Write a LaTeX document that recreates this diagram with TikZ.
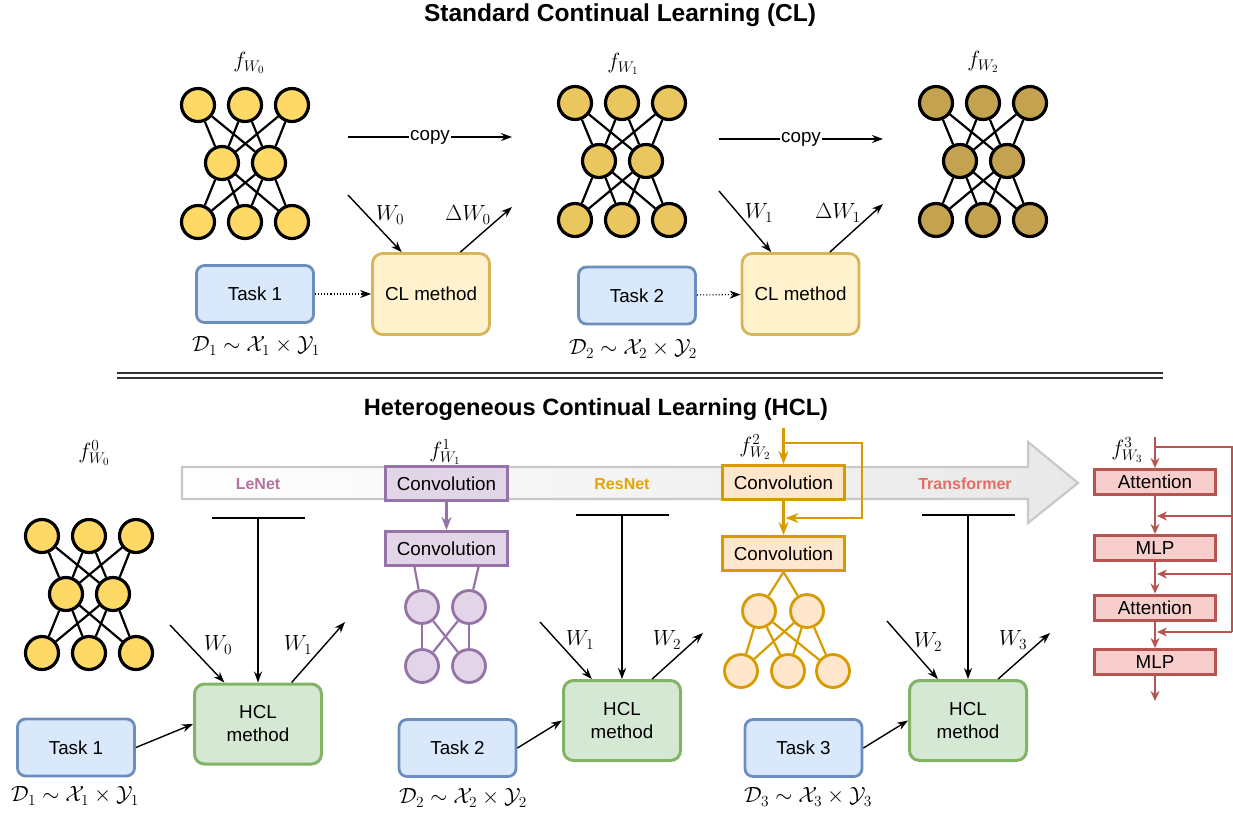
\RequirePackage{fix-cm}
\documentclass[tikz,border=0pt]{standalone}
\usepackage[no-math]{fontspec}
\setmainfont{Liberation Sans}
\usetikzlibrary{arrows.meta,positioning}

\definecolor{taskfill}{RGB}{218,232,252}
\definecolor{taskline}{RGB}{108,142,191}
\definecolor{clfill}{RGB}{255,242,204}
\definecolor{clline}{RGB}{214,182,86}
\definecolor{hclfill}{RGB}{213,232,212}
\definecolor{hclline}{RGB}{130,179,102}
\definecolor{lenetfill}{RGB}{225,213,231}
\definecolor{lenetline}{RGB}{150,115,166}
\definecolor{lenettext}{RGB}{181,115,157}
\definecolor{resfill}{RGB}{255,230,204}
\definecolor{resline}{RGB}{215,155,0}
\definecolor{restext}{RGB}{227,166,0}
\definecolor{trfill}{RGB}{248,206,204}
\definecolor{trline}{RGB}{184,84,80}
\definecolor{trtext}{RGB}{234,107,102}
\definecolor{netA}{RGB}{255,217,102}
\definecolor{netB}{RGB}{233,198,94}
\definecolor{netC}{RGB}{196,163,80}
\definecolor{bannerline}{RGB}{200,200,200}

\newcommand{\boxfont}{\fontsize{18.8}{23}\selectfont}
\newcommand{\mathfont}{\fontsize{22}{26}\selectfont}

% fully connected 3-2-3 net: name, x of first neuron, y of top row, fill
\newcommand{\denseNet}[4]{%
  \foreach \i in {0,1,2} {
    \node[neuron, fill=#4] (#1t\i) at ({#2+47*\i},#3) {};
    \node[neuron, fill=#4] (#1b\i) at ({#2+47*\i},#3+117) {};
  }
  \foreach \j in {0,1}
    \node[neuron, fill=#4] (#1m\j) at ({#2+24+47*\j},#3+58) {};
  \foreach \i in {0,1,2}
    \foreach \j in {0,1} {
      \draw[link] (#1t\i) -- (#1m\j);
      \draw[link] (#1m\j) -- (#1b\i);
    }
}

\begin{document}
\begin{tikzpicture}[x=1pt, y=-1pt, >={Stealth[length=11pt,width=8pt]},
    neuron/.style={circle, draw, line width=3.2pt, minimum size=33pt, inner sep=0pt},
    link/.style={line width=2.2pt},
    lbl/.style={font=\mathfont},
    arr/.style={->, line width=1.4pt},
    task/.style={draw=taskline, fill=taskfill, line width=2.8pt, rounded corners=8pt,
      minimum width=117pt, minimum height=57pt, font=\boxfont},
    cl/.style={draw=clline, fill=clfill, line width=2.8pt, rounded corners=10pt,
      minimum width=117pt, minimum height=81pt, font=\boxfont},
    hcl/.style={draw=hclline, fill=hclfill, line width=3pt, rounded corners=10pt,
      minimum width=117pt, minimum height=80pt, align=center, font=\boxfont},
    layer/.style={line width=3pt, minimum width=122pt, minimum height=34pt,
      inner sep=0pt, font=\boxfont},
    block/.style={draw=trline, fill=trfill, line width=3pt, minimum width=121pt,
      minimum height=25pt, inner sep=0pt, font=\boxfont},
    tag/.style={font=\fontsize{16}{18}\selectfont\bfseries},
    pflow/.style={line width=2.4pt, >={Stealth[length=13pt,width=10pt]}},
    rflow/.style={trline, line width=1.7pt, >={Stealth[length=10pt,width=9pt]}}]
\useasboundingbox (0,0) rectangle (1233,812);

% ---- standard CL ----
\node[font=\fontsize{24.5}{28}\selectfont\bfseries] (title1) at (620,15) {Standard Continual Learning (CL)};

\denseNet{a}{198}{105}{netA}
\denseNet{b}{575}{103}{netB}
\denseNet{c}{936}{103}{netC}
\node[lbl] (fa) at (249,63) {$f_{W_0}$};
\node[lbl] (fb) at (623,64) {$f_{W_1}$};
\node[lbl] (fc) at (983,62) {$f_{W_2}$};

\node[task] (task1) at (255,294) {Task 1};
\node[cl] (cl1) at (431,294) {CL method};
\node[task] (task2) at (637,295.5) {Task 2};
\node[cl] (cl2) at (800.5,294) {CL method};
\node[lbl] (d1) at (256,346) {$\mathcal{D}_1\sim\mathcal{X}_1\times\mathcal{Y}_1$};
\node[lbl] (d2) at (633,349) {$\mathcal{D}_2\sim\mathcal{X}_2\times\mathcal{Y}_2$};

\draw[->, dotted, line width=1.1pt] (task1) -- (cl1);
\draw[->, dotted, line width=1.1pt] (task2) -- (cl2);

\coordinate (cA1) at (348,137);
\coordinate (cA2) at (512,137);
\coordinate (cB1) at (719,139);
\coordinate (cB2) at (883,139);
\draw[arr] (cA1) -- node[fill=white, inner sep=1pt, font=\boxfont] (copyA) {copy} (cA2);
\draw[arr] (cB1) -- node[fill=white, inner sep=1pt, font=\boxfont] (copyB) {copy} (cB2);

\coordinate (wA) at (348,195);
\coordinate (dA) at (512,207);
\coordinate (wB) at (719,191);
\coordinate (dB) at (883,204);
\draw[arr] (wA) -- (cl1.125);
\draw[arr] (cl1.55) -- (dA);
\draw[arr] (wB) -- (cl2.125);
\draw[arr] (cl2.55) -- (dB);
\node[lbl] (la) at (390,215) {$W_0$};
\node[lbl] (lb) at (468,215) {$\Delta W_0$};
\node[lbl] (lc) at (759,213) {$W_1$};
\node[lbl] (ld) at (838,213) {$\Delta W_1$};

% separator
\draw[double distance=3.6pt, line width=1.4pt, black!80] (117,375.5) -- (1163,375.5);

% ---- heterogeneous CL ----
\node[font=\fontsize{23.6}{27}\selectfont\bfseries] (title2) at (596,409) {Heterogeneous Continual Learning (HCL)};

% architecture banner
\path[draw=bannerline, line width=2.2pt, left color=white, right color=gray!18]
  (182,467) -- (1028,467) -- (1028,442) -- (1078,483) -- (1028,523)
  -- (1028,499) -- (182,499) -- cycle;
\node[tag, text=lenettext] (lenet) at (258,484) {LeNet};
\node[tag, text=restext] (resnet) at (622,484) {ResNet};
\node[tag, text=trtext] (trans) at (965,484) {Transformer};

% f^0: dense net
\denseNet{d}{42}{536}{netA}
\node[lbl] (f0) at (94,453) {$f^0_{W_0}$};

% f^1: LeNet
\node[layer, draw=lenetline, fill=lenetfill] (pc1) at (446.5,483.5) {Convolution};
\node[layer, draw=lenetline, fill=lenetfill] (pc2) at (446.5,548.5) {Convolution};
\draw[pflow, ->, lenetline] (pc1) -- (pc2);
\foreach \n/\x/\y in {p1/422/607, p2/469/607, p3/422/666, p4/469/666}
  \node[neuron, draw=lenetline, fill=lenetfill, line width=2.8pt] (\n) at (\x,\y) {};
\draw[link, lenetline] (pc2.210) -- (p1);
\draw[link, lenetline] (pc2.330) -- (p2);
\foreach \i in {p1,p2}
  \foreach \j in {p3,p4}
    \draw[link, lenetline] (\i) -- (\j);
\node[lbl] (f1) at (445,452) {$f^1_{W_1}$};

% f^2: ResNet
\node[layer, draw=resline, fill=resfill] (oc1) at (783.5,482.5) {Convolution};
\node[layer, draw=resline, fill=resfill] (oc2) at (783.5,553.5) {Convolution};
\coordinate (oin) at (783.5,428);
\coordinate (osplit) at (783.5,443);
\coordinate (omerge) at (783.5,518);
\draw[pflow, ->, resline] (oin) -- (oc1);
\draw[pflow, ->, resline] (oc1) -- (oc2);
\draw[pflow, ->, resline] (osplit) -- (862,443) -- (862,518) -- ([xshift=2pt]omerge);
\foreach \n/\x/\y in {o1/759/611, o2/807/611, o3/741/671, o4/788/671, o5/833/671}
  \node[neuron, draw=resline, fill=resfill, line width=2.8pt] (\n) at (\x,\y) {};
\draw[link, resline] (oc2.south) -- (o1);
\draw[link, resline] (oc2.south) -- (o2);
\foreach \i in {o1,o2}
  \foreach \j in {o3,o4,o5}
    \draw[link, resline] (\i) -- (\j);
\node[lbl] (f2) at (755,447) {$f^2_{W_2}$};

% f^3: Transformer
\node[block] (att1) at (1155,482) {Attention};
\node[block] (mlp1) at (1155,548) {MLP};
\node[block] (att2) at (1155,607.5) {Attention};
\node[block] (mlp2) at (1155,662) {MLP};
\coordinate (rin) at (1155,437);
\coordinate (rout) at (1155,701);
\coordinate (rsplit) at (1155,447);
\draw[rflow, ->] (rin) -- (att1);
\draw[rflow, ->] (att1) -- (mlp1);
\draw[rflow, ->] (mlp1) -- (att2);
\draw[rflow, ->] (att2) -- (mlp2);
\draw[rflow, ->] (mlp2) -- (rout);
\draw[rflow] (rsplit) -- (1232,447) -- (1232,632);
\foreach \y in {516,574,632}
  \draw[rflow, ->] (1232,\y) -- (1157,\y);
\node[lbl] (f3) at (1127,450) {$f^3_{W_3}$};

% tasks and HCL methods
\node[task] (btask1) at (76,747.5) {Task 1};
\node[task] (btask2) at (457.5,748) {Task 2};
\node[task] (btask3) at (803.5,748) {Task 3};
\node[hcl, minimum width=127pt] (hcl1) at (258,724) {HCL\\method};
\node[hcl] (hcl2) at (622,720.5) {HCL\\method};
\node[hcl] (hcl3) at (968,720.5) {HCL\\method};
\node[lbl] (e1) at (75,796) {$\mathcal{D}_1\sim\mathcal{X}_1\times\mathcal{Y}_1$};
\node[lbl] (e2) at (463,798) {$\mathcal{D}_2\sim\mathcal{X}_2\times\mathcal{Y}_2$};
\node[lbl] (e3) at (808,797) {$\mathcal{D}_3\sim\mathcal{X}_3\times\mathcal{Y}_3$};

\draw[arr] (btask1.east) -- (hcl1.west);
\draw[arr] (btask2.east) -- (hcl2.west);
\draw[arr] (btask3.east) -- (hcl3.west);

% architecture feeds each method
\coordinate (bar1) at (258,518);
\coordinate (bar2) at (622,515);
\coordinate (bar3) at (968,515);
\foreach \b/\m in {bar1/hcl1, bar2/hcl2, bar3/hcl3} {
  \draw[line width=1.3pt] (\b) ++(-46,0) -- ++(93,0);
  \draw[arr] (\b) -- (\m);
}

\coordinate (u0) at (170,625);
\coordinate (v1) at (345,622);
\coordinate (u1) at (540,622);
\coordinate (v2) at (703,633);
\coordinate (u2) at (887,621);
\coordinate (v3) at (1050,633);
\draw[arr] (u0) -- (hcl1.129);
\draw[arr] (hcl1.51) -- (v1);
\draw[arr] (u1) -- (hcl2.126);
\draw[arr] (hcl2.54) -- (v2);
\draw[arr] (u2) -- (hcl3.126);
\draw[arr] (hcl3.54) -- (v3);
\node[lbl] (ga) at (218,645) {$W_0$};
\node[lbl] (gb) at (298,645) {$W_1$};
\node[lbl] (gc) at (580,640) {$W_1$};
\node[lbl] (gd) at (667,640) {$W_2$};
\node[lbl] (ge) at (928,642) {$W_2$};
\node[lbl] (gf) at (1013,640) {$W_3$};
\end{tikzpicture}
\end{document}
